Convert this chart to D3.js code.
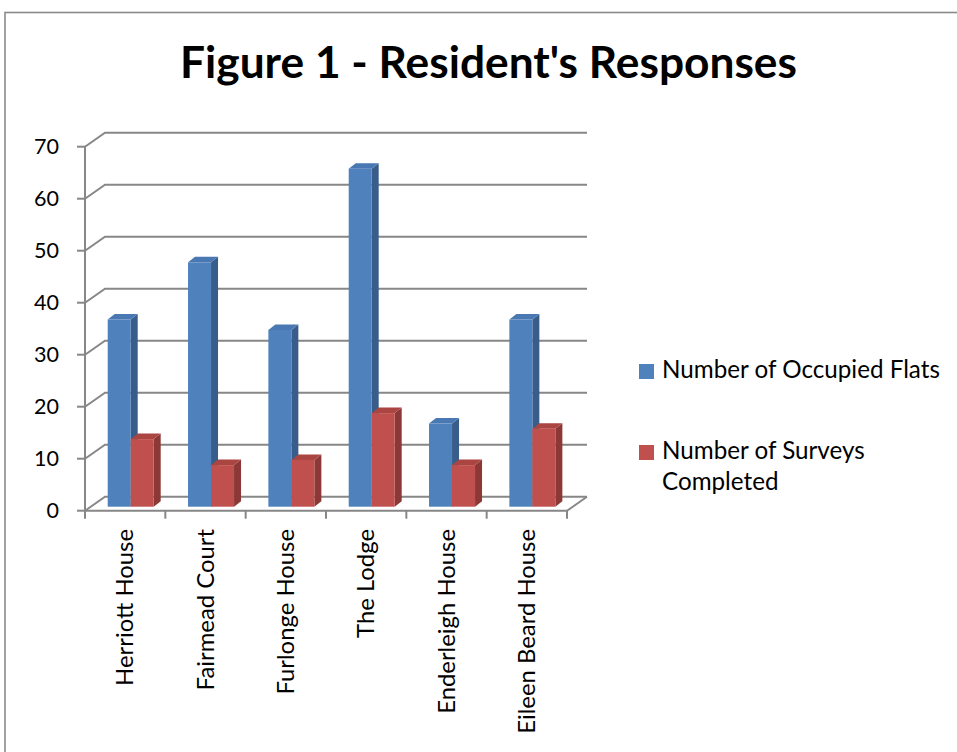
<!DOCTYPE html>
<html>
<head>
<meta charset="utf-8">
<script src="https://cdn.jsdelivr.net/npm/d3@7"></script>
<style>
  html, body { margin: 0; padding: 0; background: #fff; }
  svg { display: block; }
  text { font-family: Lato, "Open Sans", sans-serif; fill: #000; }
</style>
</head>
<body>
<svg id="chart" width="957" height="752"></svg>
<script>
// ---- data ----
const categories = ["Herriott House", "Fairmead Court", "Furlonge House", "The Lodge", "Enderleigh House", "Eileen Beard House"];
const occupiedFlats = [36, 47, 34, 65, 16, 36];
const surveysCompleted = [13, 8, 9, 18, 8, 15];
const seriesNames = ["Number of Occupied Flats", "Number of Surveys Completed"];
const yTicks = [0, 10, 20, 30, 40, 50, 60, 70];
const titleText = "Figure 1 - Resident's Responses";

// ---- layout ----
const W = 957, H = 752;
const svg = d3.select("#chart");
svg.append("rect").attr("width", W).attr("height", H).attr("fill", "#fff");

// outer frame (runs off right and bottom edges)
svg.append("rect").attr("x", 5).attr("y", 12.5).attr("width", 1200).attr("height", 1200)
  .attr("fill", "none").attr("stroke", "#8a8a8a").attr("stroke-width", 1.6);

const axisX0 = 85, axisX1 = 567;
const DX = 20, DY = -14;          // wall depth offset
const BOX = 5.7, BOY = -4;        // bar front-face offset
const SDX = 7, SDY = -5.5;        // bar side depth

const x = d3.scaleBand().domain(categories).range([axisX0, axisX1]).padding(0);
const y = d3.scaleLinear().domain([0, 70]).range([510.7, 146.7]);
const gridColor = "#878787";

// helper to fit font size to a target width
function fitSize(text, weight, target, base) {
  const t = svg.append("text").attr("font-size", base).attr("font-weight", weight).text(text);
  const w = t.node().getComputedTextLength();
  t.remove();
  return base * target / w;
}

// gridlines (left wall diagonal + back wall horizontal)
const grid = svg.append("g").attr("fill", "none").attr("stroke", gridColor).attr("stroke-width", 2);
yTicks.forEach(v => {
  const yy = y(v);
  grid.append("path").attr("d", `M${axisX0},${yy}L${axisX0 + DX},${yy + DY}L${axisX1 + DX},${yy + DY}`);
  grid.append("line").attr("x1", axisX0 - 8).attr("x2", axisX0).attr("y1", yy).attr("y2", yy);
});
// vertical axis
grid.append("line").attr("x1", axisX0).attr("x2", axisX0).attr("y1", y(70)).attr("y2", y(0));
// floor front edge + right diagonal
grid.append("path").attr("d", `M${axisX0},${y(0)}L${axisX1},${y(0)}L${axisX1 + DX},${y(0) + DY}`);
// category ticks
const bounds = categories.map(c => x(c)).concat([axisX1]);
bounds.forEach(bx => {
  grid.append("line").attr("x1", bx).attr("x2", bx).attr("y1", y(0)).attr("y2", y(0) + 8);
});

// y tick labels
const tickSize = fitSize("70", 400, 25, 20);
svg.append("g").selectAll("text").data(yTicks).join("text")
  .attr("x", 59).attr("y", d => y(d)).attr("dy", "0.36em")
  .attr("text-anchor", "end").attr("font-size", tickSize).text(d => d);

// bars
const colors = [
  { front: "#4f81bd", side: "#385d8a", top: "#4a78b2" },
  { front: "#c0504d", side: "#8c3836", top: "#aa4542" }
];
const seriesData = [occupiedFlats, surveysCompleted];
const barW = 23, innerPad = 17;
const barsG = svg.append("g");
categories.forEach((c, ci) => {
  seriesData.forEach((vals, si) => {
    const v = vals[ci];
    const x0 = x(c) + innerPad + si * barW + BOX;
    const x1 = x0 + barW;
    const yb = y(0) + BOY;
    const yt = y(v) + BOY;
    const col = colors[si];
    // side face
    barsG.append("path").attr("fill", col.side)
      .attr("d", `M${x1},${yb}L${x1 + SDX},${yb + SDY}L${x1 + SDX},${yt + SDY}L${x1},${yt}Z`);
    // top face
    barsG.append("path").attr("fill", col.top)
      .attr("d", `M${x0},${yt}L${x0 + SDX},${yt + SDY}L${x1 + SDX},${yt + SDY}L${x1},${yt}Z`);
    // front face
    barsG.append("rect").attr("fill", col.front)
      .attr("x", x0).attr("y", yt).attr("width", barW).attr("height", yb - yt);
  });
});

// category labels (rotated)
const labSize = fitSize("Herriott House", 400, 157, 20);
svg.append("g").selectAll("text").data(categories).join("text")
  .attr("transform", d => `translate(${x(d) + x.bandwidth() / 2 + 8},529) rotate(-90)`)
  .attr("text-anchor", "end").attr("font-size", labSize).text(d => d);

// title
const titleSize = fitSize(titleText, 700, 617, 40);
svg.append("text").attr("x", 488.5).attr("y", 78.3).attr("text-anchor", "middle")
  .attr("font-weight", 700).attr("font-size", titleSize).text(titleText);

// legend
const legSize = fitSize(seriesNames[0], 400, 278, 20);
const legend = svg.append("g");
legend.append("rect").attr("x", 639).attr("y", 364).attr("width", 15).attr("height", 15).attr("fill", colors[0].front);
legend.append("text").attr("x", 662).attr("y", 378).attr("font-size", legSize).text(seriesNames[0]);
legend.append("rect").attr("x", 639).attr("y", 445).attr("width", 15).attr("height", 15).attr("fill", colors[1].front);
const parts = ["Number of Surveys", "Completed"];
legend.append("text").attr("x", 662).attr("y", 459).attr("font-size", legSize).text(parts[0]);
legend.append("text").attr("x", 662).attr("y", 490).attr("font-size", legSize).text(parts[1]);
</script>
</body>
</html>
